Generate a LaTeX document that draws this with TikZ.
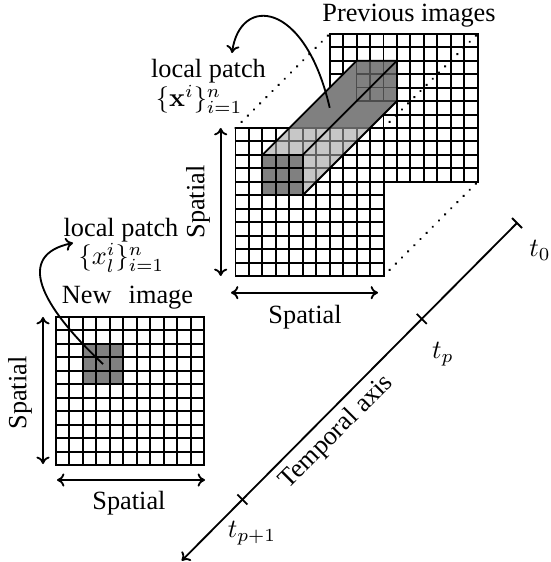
\documentclass[tikz,border=0pt]{standalone}
\usepackage[no-math]{fontspec}
\setmainfont{Liberation Serif}
\usetikzlibrary{calc,arrows.meta}
\definecolor{pgray}{gray}{0.5}
\definecolor{lgray}{gray}{0.78}
\definecolor{lline}{gray}{0.38}
\definecolor{bline}{gray}{0.3}
\newcommand{\cellsz}{13.4545}
\newcommand{\gridlines}[4]{%
  \foreach \k in {0,...,#3} {
    \draw[#4] ({#1+\k*\cellsz},#2) -- ++(0,{#3*\cellsz});
    \draw[#4] (#1,{#2+\k*\cellsz}) -- ++({#3*\cellsz},0);
  }}
\begin{document}
\begin{tikzpicture}[x=0.38pt,y=-0.38pt,line width=0.7pt,
  >={To[length=2.8pt,width=5pt]},
  lbl/.style={inner sep=0pt},
  gline/.style={line cap=rect,line width=0.75pt},
  dots/.style={line width=1pt,dash pattern=on 0.01pt off 3.3pt,line cap=round}]
\useasboundingbox (0,0) rectangle (550,562);

% corner coordinates
\coordinate (FTL) at (235.5,128);
\coordinate (FTR) at (383.5,128);
\coordinate (FBR) at (383.5,276);
\coordinate (BTL) at (329.68,33.82);
\coordinate (BTR) at (477.68,33.82);
\coordinate (BBR) at (477.68,181.82);
\coordinate (fTL) at (262.41,154.91);
\coordinate (fTR) at (302.77,154.91);
\coordinate (fBR) at (302.77,195.27);
\coordinate (fBL) at (262.41,195.27);
\coordinate (bTL) at (356.59,60.73);
\coordinate (bTR) at (396.95,60.73);
\coordinate (bBR) at (396.95,101.09);

% back grid (previous images)
\fill[white] (BTL) rectangle (BBR);
\gridlines{329.68}{33.82}{11}{gline}

% dotted connectors
\draw[dots] (FTL) -- (BTL);
\draw[dots] (FTR) -- (BTR);
\draw[dots] (FBR) -- (BBR);

% prism faces
\fill[pgray] (fTL)--(bTL)--(bTR)--(fTR)--cycle;
\fill[pgray] (fTR)--(bTR)--(bBR)--(fBR)--cycle;
\gridlines{356.59}{60.73}{3}{bline,line width=0.6pt}

% front grid
\fill[white] (FTL) rectangle (FBR);
\gridlines{235.5}{128}{11}{gline}
\begin{scope}
  \clip (FTL) rectangle (FBR);
  \clip (fBL)--(fTL)--(bTL)--(bTR)--(bBR)--(fBR)--cycle;
  \fill[lgray] (FTL) rectangle (FBR);
  \gridlines{235.5}{128}{11}{gline,lline}
\end{scope}
\fill[pgray] (fTL) rectangle (fBR);
\gridlines{262.41}{154.91}{3}{gline}
\draw (fTL)--(bTL)--(bTR)--(bBR)--(fBR);
\draw (fTR)--(bTR);

% new image grid
\fill[white] (56,317) rectangle ++(148,148);
\fill[pgray] (82.91,343.91) rectangle ++(40.36,40.36);
\gridlines{56}{317}{11}{gline}

% spatial arrows
\coordinate (fva) at (220.7,128);
\coordinate (fvb) at (220.7,276);
\coordinate (fha) at (231,292.7);
\coordinate (fhb) at (378,292.7);
\coordinate (nva) at (43,317);
\coordinate (nvb) at (43,464);
\coordinate (nha) at (57,480);
\coordinate (nhb) at (205,480);
\draw[<->] (fva) -- (fvb);
\draw[<->] (fha) -- (fhb);
\draw[<->] (nva) -- (nvb);
\draw[<->] (nha) -- (nhb);

% labels
\node[lbl,anchor=base] (prev) at (409,22) {Previous images};
\node[lbl,anchor=base] (lp1) at (208.5,78) {local patch};
\node[lbl,anchor=base west] (f1) at (155,107) {$\{\mathbf{x}^i\}_{i=1}^n$};
\node[lbl,anchor=base] (lp2) at (121,237) {local patch};
\node[lbl,anchor=base] (f2) at (121.5,265) {$\{x_l^i\}_{i=1}^n$};
\node[lbl,anchor=base] (newimg) at (127.5,304) {New\hspace{6.5pt}image};
\node[lbl,rotate=90] (sv1) at (198,202) {Spatial};
\node[lbl] (sh1) at (305,317.5) {Spatial};
\node[lbl,rotate=90] (sv2) at (20,393) {Spatial};
\node[lbl] (sh2) at (129,503) {Spatial};

% curved arrows
\coordinate (npc) at (103.1,364.1);
\coordinate (nptip) at (73,243);
\draw[->] (npc) .. controls (40,305) and (15,255) .. (nptip);
\coordinate (ppc) at (329.7,107.8);
\coordinate (pptip) at (232,53);
\draw[->] (ppc) .. controls (305,0) and (240,-5) .. (pptip);

% temporal axis
\coordinate (axA) at (181.7,560.7);
\coordinate (axB) at (517,223);
\coordinate (tk0) at (axB);
\coordinate (tkp) at ($(axA)!0.716!(axB)$);
\coordinate (tkq) at ($(axA)!0.181!(axB)$);
\draw[->] (axB) -- (axA);
\draw ($(tk0)+(-5,-5)$) -- ($(tk0)+(5,5)$);
\draw ($(tkp)+(-5,-5)$) -- ($(tkp)+(5,5)$);
\draw ($(tkq)+(-5,-5)$) -- ($(tkq)+(5,5)$);
\node[lbl] (t0) at (540,250) {$t_0$};
\node[lbl] (tp) at (443,354) {$t_p$};
\node[lbl] (tq) at (252,533) {$t_{p+1}$};
\node[lbl,rotate=45] (tax) at (336.7,432.3) {Temporal axis};
\end{tikzpicture}
\end{document}
